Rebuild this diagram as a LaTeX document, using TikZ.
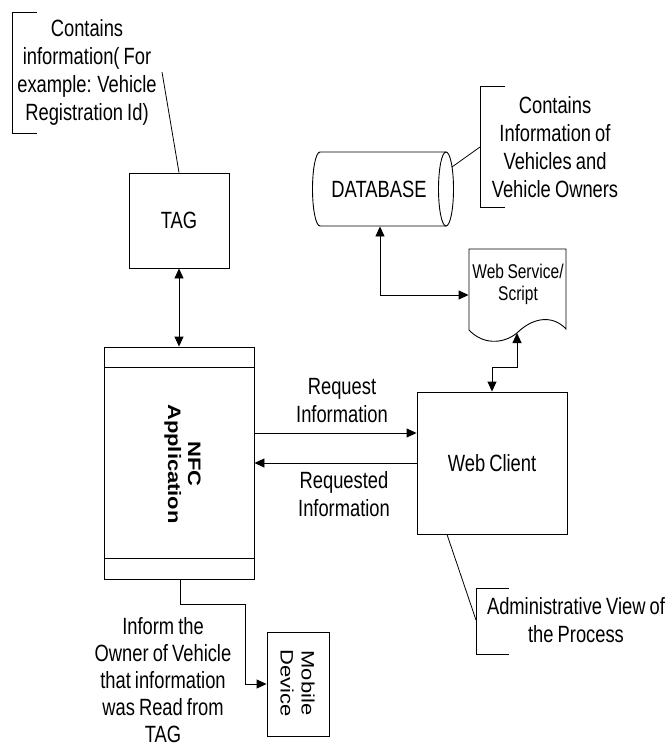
\documentclass[tikz,border=0pt]{standalone}
\usepackage{fontspec}
\setmainfont{Liberation Sans}[FakeStretch=0.78,WordSpace=0.8]
\newfontfamily\rotfont{Liberation Sans}[FakeStretch=1.22]
\usetikzlibrary{arrows.meta,calc}
\begin{document}
\begin{tikzpicture}[x=1pt,y=1pt,
  line width=0.9pt,
  box/.style={draw,rectangle,inner sep=0pt},
  lbl/.style={align=center,inner sep=0pt,font=\fontsize{23.5}{27.5}\selectfont},
  anno/.style={align=center,inner sep=0pt,font=\fontsize{23.5}{28}\selectfont},
  small/.style={align=center,inner sep=0pt,font=\fontsize{19.9}{22}\selectfont},
  rot/.style={align=center,inner sep=0pt,rotate=-90},
  arr/.style={-{Triangle[length=10pt,width=9pt]}},
  darr/.style={{Triangle[length=10pt,width=9pt]}-{Triangle[length=10pt,width=9pt]}},
  thin/.style={line width=0.8pt}]
\useasboundingbox (0,0) rectangle (670,-749);
\fill[white] (0,0) rectangle (670,-749);

% TAG
\node[box,minimum width=100pt,minimum height=95pt,font=\fontsize{23.5}{27}\selectfont] (tag) at (179,-220.5) {TAG};

% NFC application
\node[box,minimum width=150pt,minimum height=232pt] (nfc) at (179,-463) {};
\draw (nfc.north west) ++(0,-21) -- ($(nfc.north east)+(0,-21)$);
\draw (nfc.south west) ++(0,21) -- ($(nfc.south east)+(0,21)$);
\node[rot,font=\rotfont\bfseries\fontsize{18}{20}\selectfont] (nfctext) at (182.5,-464) {NFC\\Application};

% Web client
\node[box,minimum width=150pt,minimum height=142pt,font=\fontsize{23.5}{27}\selectfont] (wc) at (492,-463) {Web Client};

% Mobile device
\node[box,minimum width=62pt,minimum height=104pt] (mob) at (298,-684) {};
\node[rot,font=\rotfont\fontsize{18}{21}\selectfont] (mobtext) at (297.5,-683) {Mobile\\Device};

% Database cylinder
\node[minimum width=140pt,minimum height=74pt,inner sep=0pt] (db) at (383,-189) {};
\draw (446,-152) -- (320,-152) arc[start angle=90,end angle=270,x radius=7.5,y radius=37] -- (446,-226);
\draw (446,-189) ellipse[x radius=7.5,y radius=37];
\node[font=\fontsize{23.5}{27}\selectfont,inner sep=0pt] (dbtext) at (379,-189) {DATABASE};

% Web service document
\node[minimum width=97pt,minimum height=84pt,inner sep=0pt] (ws) at (517.5,-291) {};
\draw (469,-330) -- (469,-249) -- (566,-249) -- (566,-329)
  .. controls (552,-314) and (532,-318) .. (517,-333)
  .. controls (502,-345) and (482,-344) .. (469,-330);
\node[small] (wstext) at (518,-284) {Web Service/\\Script};
\coordinate (wsbot) at (517,-333);

% Connectors
\draw[darr] (tag.south) -- (nfc.north);
\draw[darr] ([xshift=-3pt]db.south) |- ([yshift=-4pt]ws.west);
\draw[darr] (wsbot) -- ++(0,-34) -| (wc.north);
\draw[arr] ([yshift=30pt]nfc.east) -- ([yshift=30pt]wc.west);
\draw[arr] (wc.west) -- (nfc.east);
\draw[arr] ([xshift=1pt]nfc.south) -- ++(0,-25) -| ([xshift=-21pt]mob.west) -- (mob.west);

% Edge labels
\node[lbl] (req) at (342,-400.5) {Request\\Information};
\node[lbl] (reqd) at (344,-494) {Requested\\Information};
\node[align=center,inner sep=0pt,font=\fontsize{23.5}{27}\selectfont] (inform) at (163,-680) {Inform the\\Owner of Vehicle\\that information\\was Read from\\TAG};

% Annotation 1
\node[anno] (a1) at (87,-72.5) {Contains\\information( For\\example: Vehicle\\Registration Id)};
\draw[thin] (37,-12.7) -- (12.7,-12.7) -- (12.7,-133) -- (37,-133);
\coordinate (a1l) at (162,-72);
\draw[thin] (a1l) -- (tag.north);

% Annotation 2
\node[anno] (a2) at (555,-147) {Contains\\Information of\\Vehicles and\\Vehicle Owners};
\draw[thin] (505,-86) -- (480,-86) -- (480,-207) -- (505,-207);
\coordinate (a2l) at (480,-147);
\coordinate (dbr) at (452,-167);
\draw[thin] (dbr) -- (a2l);

% Annotation 3
\node[anno] (a3) at (576,-620.5) {Administrative View of\\the Process};
\draw[thin] (509,-588) -- (476,-588) -- (476,-654) -- (509,-654);
\coordinate (a3l) at (476,-620);
\draw[thin] ([xshift=-45pt]wc.south) -- (a3l);
\end{tikzpicture}
\end{document}
